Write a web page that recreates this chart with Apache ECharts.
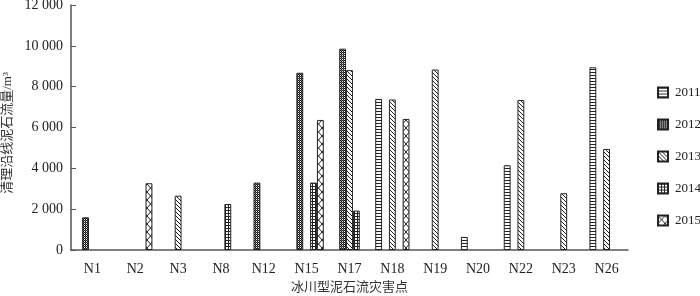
<!DOCTYPE html>
<html><head><meta charset="utf-8">
<script src="https://cdn.jsdelivr.net/npm/echarts@6/dist/echarts.min.js"></script>
<style>html,body{margin:0;padding:0;background:#fff}#c{width:700px;height:296px}</style>
</head><body><div id="c"></div>
<script>
var categories = ['N1','N2','N3','N8','N12','N15','N17','N18','N19','N20','N22','N23','N26'];
var years = ['2011','2012','2013','2014','2015'];
var v2011 = [null,null,null,null,null,null,null,7400,null,640,4150,null,8950];
var v2012 = [1600,null,null,null,3300,8680,9860,null,null,null,null,null,null];
var v2013 = [null,null,2660,null,null,null,8810,7370,8840,null,7350,2780,4950];
var v2014 = [null,null,null,2250,null,3300,1930,null,null,null,null,null,null];
var v2015 = [null,3270,null,null,null,6370,null,6420,null,null,null,null,null];
var yTicks = [0,2000,4000,6000,8000,10000,12000];
var seriesValues = [v2011,v2012,v2013,v2014,v2015];

function tile(w,h,draw){
  var c=document.createElement('canvas');c.width=w;c.height=h;
  var g=c.getContext('2d');g.fillStyle='#fff';g.fillRect(0,0,w,h);
  g.strokeStyle='#222';g.fillStyle='#222';g.lineWidth=1;draw(g);return c;
}
var patterns = [
  tile(3,3,function(g){g.fillRect(0,0,3,1);}),
  tile(2,2,function(g){g.fillStyle='#111';g.fillRect(0,0,1,1);g.fillRect(1,1,1,1);g.fillStyle='#666';g.fillRect(1,0,1,1);}),
  tile(4,4,function(g){for(var i=0;i<4;i++){g.fillRect(i,i,1,1);}}),
  tile(3,3,function(g){g.fillRect(0,0,3,1);g.fillRect(0,0,1,3);}),
  tile(7,8,function(g){g.beginPath();g.moveTo(0,0);g.lineTo(7,8);g.moveTo(7,0);g.lineTo(0,8);g.stroke();})
];

var fontF = '"Liberation Serif","Noto Sans CJK SC",serif';
var chart = echarts.init(document.getElementById('c'),null,{renderer:'canvas'});
chart.setOption({
  animation:false,
  grid:{left:71,right:72,top:5,bottom:46,outerBoundsMode:'none',containLabel:false},
  legend:{orient:'vertical',left:657,top:86,padding:0,itemWidth:10,itemHeight:10,itemGap:19,
    data:years,textStyle:{fontFamily:fontF,fontSize:13,color:'#222',padding:[0,0,0,2],width:30,overflow:'none'},icon:'rect'},
  xAxis:{type:'category',data:categories,name:'冰川型泥石流灾害点',nameLocation:'middle',nameGap:31,
    nameTextStyle:{fontFamily:fontF,fontSize:13,color:'#333'},
    axisLine:{lineStyle:{color:'#555',width:1.5}},
    axisTick:{inside:true,length:7,lineStyle:{color:'#555'}},
    axisLabel:{fontFamily:fontF,fontSize:14,color:'#222',margin:12}},
  yAxis:{type:'value',min:0,max:12000,interval:2000,name:'清理沿线泥石流量/m³',nameLocation:'middle',nameGap:54,
    nameTextStyle:{fontFamily:fontF,fontSize:13,color:'#333',padding:[0,11,0,0]},
    axisLine:{show:true,lineStyle:{color:'#555',width:1.5}},
    axisTick:{show:true,inside:true,length:5,lineStyle:{color:'#555'}},
    splitLine:{show:false},
    axisLabel:{fontFamily:fontF,fontSize:14,color:'#222',margin:8,
      formatter:function(v){return yTicks.indexOf(v)>=0?String(v).replace(/\B(?=(\d{3})+(?!\d))/g,' '):'';}}},
  series: years.map(function(y,i){return {
    name:y,type:'bar',data:seriesValues[i],barGap:'0%',barCategoryGap:'20%',
    itemStyle:{color:{image:patterns[i],repeat:'repeat'},borderColor:'#222',borderWidth:1}
  };})
});
</script></body></html>
